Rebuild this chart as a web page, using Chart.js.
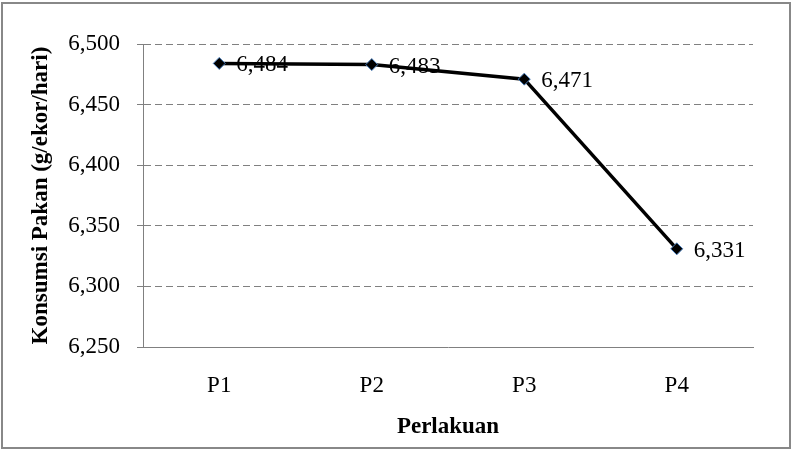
<!DOCTYPE html>
<html>
<head>
<meta charset="utf-8">
<script src="https://cdn.jsdelivr.net/npm/chart.js@4/dist/chart.umd.min.js"></script>
<style>
  body { margin: 0; background: #fff; }
  #wrap { width: 795px; height: 452px; }
</style>
</head>
<body>
<div id="wrap"><canvas id="konsumsi"></canvas></div>
<script>
const categories = ['P1', 'P2', 'P3', 'P4'];
const konsumsi = [6.484, 6.483, 6.471, 6.331];
const yTicks = [6.25, 6.30, 6.35, 6.40, 6.45, 6.50];

const serif = "'Liberation Serif', 'Times New Roman', serif";

function fmt(v) {
  return v.toFixed(3).replace('.', ',');
}

// labels next to each point, drawn before the line so the line runs over them
const pointLabels = {
  id: 'pointLabels',
  beforeDatasetsDraw(chart) {
    const ctx = chart.ctx;
    const meta = chart.getDatasetMeta(0);
    ctx.save();
    ctx.font = '23px ' + serif;
    ctx.fillStyle = '#000';
    ctx.textAlign = 'left';
    ctx.textBaseline = 'middle';
    meta.data.forEach((pt, i) => {
      ctx.fillText(fmt(konsumsi[i]), pt.x + 17, pt.y + 2);
    });
    ctx.restore();
  }
};

// outer frame of the chart
const frame = {
  id: 'frame',
  afterDraw(chart) {
    const ctx = chart.ctx;
    ctx.save();
    ctx.strokeStyle = '#888';
    ctx.lineWidth = 2;
    ctx.strokeRect(2, 3, 788, 445);
    ctx.restore();
  }
};

new Chart('konsumsi', {
  type: 'line',
  data: {
    labels: categories,
    datasets: [{
      data: konsumsi,
      borderColor: '#000',
      borderWidth: 3.5,
      fill: false,
      tension: 0,
      pointStyle: 'rectRot',
      pointRadius: 6,
      pointBackgroundColor: '#000',
      pointBorderColor: '#4a7ebb',
      pointBorderWidth: 1
    }]
  },
  options: {
    responsive: true,
    maintainAspectRatio: false,
    animation: false,
    layout: { padding: { top: 44, right: 42, left: 0, bottom: 0 } },
    plugins: {
      legend: { display: false },
      tooltip: { enabled: false }
    },
    scales: {
      x: {
        offset: true,
        grid: { display: false, offset: true },
        border: { display: true, color: '#808080', width: 1 },
        ticks: {
          color: '#000',
          font: { family: serif, size: 23 },
          padding: 17
        },
        title: {
          display: true,
          text: 'Perlakuan',
          color: '#000',
          font: { family: serif, size: 23, weight: 'bold' },
          padding: { top: 11, bottom: 11 }
        },
        afterFit(scale) { scale.height = 105; }
      },
      y: {
        min: 6.25,
        max: 6.5,
        afterBuildTicks(scale) {
          scale.ticks = yTicks.map(v => ({ value: v }));
        },
        grid: {
          color: '#808080',
          lineWidth: 1,
          drawTicks: true,
          tickLength: 6,
          tickColor: '#808080'
        },
        border: { display: true, color: '#808080', width: 1, dash: [7, 4] },
        ticks: {
          color: '#000',
          font: { family: serif, size: 23 },
          padding: 17,
          callback: (v) => fmt(v)
        },
        title: {
          display: true,
          text: 'Konsumsi Pakan (g/ekor/hari)',
          color: '#000',
          font: { family: serif, size: 23, weight: 'bold' },
          padding: { top: 27, bottom: 27 }
        },
        afterFit(scale) { scale.width = 143; }
      }
    }
  },
  plugins: [pointLabels, frame]
});
</script>
</body>
</html>
